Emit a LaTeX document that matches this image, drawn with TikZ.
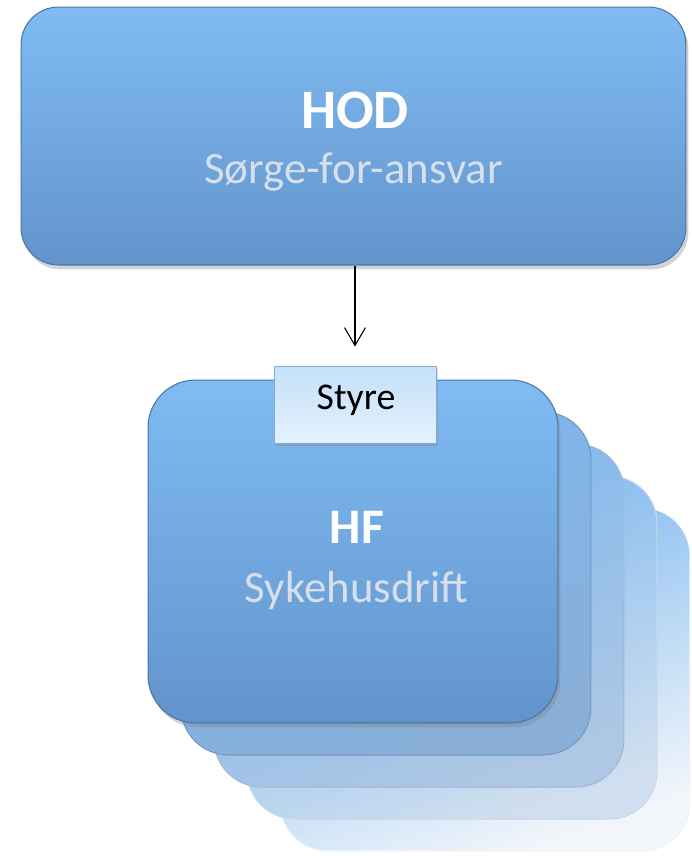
\documentclass[tikz,border=0pt]{standalone}
\usepackage{fontspec}
\setmainfont{Carlito}
\usetikzlibrary{arrows.meta,positioning,shadows}
\definecolor{boxtop}{RGB}{128,187,243}
\definecolor{boxbot}{RGB}{98,148,203}
\definecolor{boxline}{RGB}{74,118,168}
\definecolor{subgray}{RGB}{214,223,234}
\definecolor{styretop}{RGB}{196,224,248}
\definecolor{styrebot}{RGB}{228,242,253}
\definecolor{styreline}{RGB}{135,172,210}

\begin{document}
\begin{tikzpicture}[x=0.02cm,y=-0.02cm,>=Latex]
	\tikzset{
		cardbase/.style={draw=boxline,line width=0.6pt,inner sep=0pt,top color=boxtop,bottom color=boxbot},
		hodbox/.style={cardbase,rounded corners=0.75cm,minimum width=13.3cm,minimum height=5.16cm,
			drop shadow={shadow xshift=0.5mm,shadow yshift=-0.9mm,opacity=0.35}},
		hfcard/.style={cardbase,rounded corners=0.95cm,minimum width=8.2cm,minimum height=6.86cm,
			drop shadow={shadow xshift=0.5mm,shadow yshift=-0.9mm,opacity=0.35}},
		backcard/.style={cardbase,rounded corners=0.95cm,minimum width=8.2cm,minimum height=6.86cm,
			draw=boxline!#1!white,top color=boxtop!90!boxbot,bottom color=boxbot!#1!white,shading angle=20},
		styrebox/.style={draw=styreline,line width=0.5pt,top color=styretop,bottom color=styrebot,
			minimum width=3.24cm,minimum height=1.54cm,inner sep=0pt,
			drop shadow={shadow xshift=0.4mm,shadow yshift=-0.6mm,opacity=0.3}},
		titletxt/.style={text=white,font=\fontsize{#1}{#1}\selectfont\bfseries,inner sep=0pt,anchor=base},
		subtxt/.style={text=subgray,font=\fontsize{25.5}{26}\selectfont,inner sep=0pt,anchor=base}
	}
	\useasboundingbox (0,0) rectangle (692,856);
	\clip (0,0) rectangle (692,856);
	% top box
	\node[hodbox] (hod) at (353.5,136) {};
	\node[titletxt=31.7] (hodname) at (355,128) {HOD};
	\node[subtxt] (hodsub) at (353.5,183) {Sørge-for-ansvar};
	% stack of HF cards, back to front
	\foreach \k/\p in {4/8,3/30,2/52,1/75}
		\node[backcard=\p] (hf\k) at ({353+33*\k},{551.5+32*\k}) {};
	\node[hfcard] (hf) at (353,551.5) {};
	\node[titletxt=28.3] (hfname) at (357,543) {HF};
	\node[subtxt] (hfsub) at (356.5,602) {Sykehusdrift};
	\node[styrebox] (styre) at (355,404.5) {};
	\node[anchor=base,inner sep=0pt,font=\fontsize{21.5}{22}\selectfont] (styretxt) at (356,409) {Styre};
	\draw[-{Straight Barb[length=0.36cm,width=0.42cm]},line width=0.6pt,shorten >=0.38cm]
		(hod.south -| styre.north) -- (styre.north);
\end{tikzpicture}
\end{document}
